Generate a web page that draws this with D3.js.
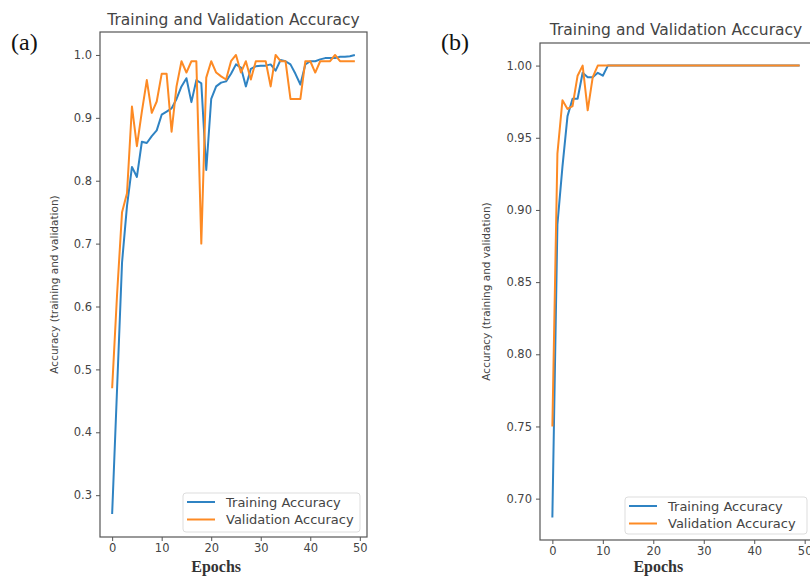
<!DOCTYPE html>
<html lang="en">
<head>
<meta charset="UTF-8">
<title>Training and Validation Accuracy</title>
<script src="https://d3js.org/d3.v7.min.js"></script>
<style>
  body {
    margin: 0;
    background: #fff;
  }
  svg text {
    font-family: "DejaVu Sans", sans-serif;
    fill: #444;
  }
  .tick text {
    font-size: 11.5px;
  }
  .panel-tag, .xlabel {
    font-family: "Liberation Serif", "Times New Roman", serif !important;
    fill: #111 !important;
  }
  .xlabel {
    fill: #333 !important;
  }
</style>
</head>
<body>
<div id="chart"></div>

<script>
// ------ Data ------

const epochs = d3.range(50);

// panel (a)
const trainA = [0.27, 0.47, 0.67, 0.76, 0.822, 0.806, 0.862, 0.86, 0.871, 0.88,
                0.905, 0.91, 0.915, 0.93, 0.95, 0.963, 0.925, 0.96, 0.955, 0.817,
                0.93, 0.95, 0.956, 0.958, 0.97, 0.985, 0.98, 0.95, 0.978, 0.982,
                0.983, 0.983, 0.985, 0.975, 0.992, 0.99, 0.985, 0.97, 0.953, 0.985,
                0.99, 0.99, 0.993, 0.995, 0.995, 0.995, 0.997, 0.997, 0.998, 1.0];
const valA   = [0.47, 0.62, 0.75, 0.78, 0.918, 0.855, 0.91, 0.96, 0.908, 0.926,
                0.97, 0.97, 0.878, 0.95, 0.99, 0.972, 0.99, 0.99, 0.70, 0.964,
                0.99, 0.972, 0.966, 0.961, 0.99, 1.0, 0.972, 0.99, 0.961, 0.99,
                0.99, 0.99, 0.95, 1.0, 0.99, 0.99, 0.93, 0.93, 0.93, 0.99,
                0.99, 0.972, 0.99, 0.99, 0.99, 1.0, 0.99, 0.99, 0.99, 0.99];

// panel (b)
const trainB = [0.687, 0.89, 0.93, 0.965, 0.977, 0.977, 0.995, 0.992, 0.992, 0.995,
                0.993, 1.0, 1.0, 1.0, 1.0, 1.0, 1.0, 1.0, 1.0, 1.0,
                1.0, 1.0, 1.0, 1.0, 1.0, 1.0, 1.0, 1.0, 1.0, 1.0,
                1.0, 1.0, 1.0, 1.0, 1.0, 1.0, 1.0, 1.0, 1.0, 1.0,
                1.0, 1.0, 1.0, 1.0, 1.0, 1.0, 1.0, 1.0, 1.0, 1.0];
const valB   = [0.75, 0.939, 0.976, 0.97, 0.972, 0.993, 1.0, 0.969, 0.992, 1.0,
                1.0, 1.0, 1.0, 1.0, 1.0, 1.0, 1.0, 1.0, 1.0, 1.0,
                1.0, 1.0, 1.0, 1.0, 1.0, 1.0, 1.0, 1.0, 1.0, 1.0,
                1.0, 1.0, 1.0, 1.0, 1.0, 1.0, 1.0, 1.0, 1.0, 1.0,
                1.0, 1.0, 1.0, 1.0, 1.0, 1.0, 1.0, 1.0, 1.0, 1.0];

const xTicks = [0, 10, 20, 30, 40, 50];
const yTicksA = [0.3, 0.4, 0.5, 0.6, 0.7, 0.8, 0.9, 1.0];
const yTicksB = [0.70, 0.75, 0.80, 0.85, 0.90, 0.95, 1.00];

const seriesNames = ["Training Accuracy", "Validation Accuracy"];
const colors = ["#2f83c3", "#fd8a24"];

// ------ Chart ------

const svg = d3.select("#chart")
  .append("svg")
    .attr("width", 810)
    .attr("height", 576);

// matplotlib-like 5% margins
function padded(ext) {
  const m = (ext[1] - ext[0]) * 0.05;
  return [ext[0] - m, ext[1] + m];
}

function drawPanel(p) {
  const g = svg.append("g");
  const [x0, x1, y0, y1] = p.frame;

  const x = d3.scaleLinear().domain(padded([0, 49])).range([x0, x1]);
  const y = d3.scaleLinear()
    .domain(padded(d3.extent(p.train.concat(p.val))))
    .range([y1, y0]);

  // series
  const line = d3.line()
    .x((d, i) => x(epochs[i]))
    .y(d => y(d));

  g.append("defs").append("clipPath")
    .attr("id", "clip-" + p.id)
    .append("rect")
      .attr("x", x0).attr("y", y0)
      .attr("width", x1 - x0).attr("height", y1 - y0);

  [p.train, p.val].forEach((s, k) => {
    g.append("path")
      .datum(s)
      .attr("clip-path", `url(#clip-${p.id})`)
      .attr("d", line)
      .attr("fill", "none")
      .attr("stroke", colors[k])
      .attr("stroke-width", 2)
      .attr("stroke-linejoin", "round");
  });

  // axes
  const xAxis = g.append("g")
    .attr("transform", `translate(0,${y1})`)
    .call(d3.axisBottom(x).tickValues(xTicks).tickSize(4).tickPadding(3).tickFormat(d3.format("d")));
  const yAxis = g.append("g")
    .attr("transform", `translate(${x0},0)`)
    .call(d3.axisLeft(y).tickValues(p.yTicks).tickSize(4).tickPadding(4).tickFormat(d3.format(p.yFmt)));
  [xAxis, yAxis].forEach(a => {
    a.select(".domain").remove();
    a.selectAll(".tick line").attr("stroke", "#555");
    a.selectAll(".tick text").attr("fill", "#444").style("font-family", "DejaVu Sans, sans-serif");
  });

  // frame
  g.append("rect")
    .attr("x", x0).attr("y", y0)
    .attr("width", x1 - x0).attr("height", y1 - y0)
    .attr("fill", "none")
    .attr("stroke", "#555")
    .attr("stroke-width", 1.2);

  // title
  g.append("text")
    .attr("x", (x0 + x1) / 2)
    .attr("y", p.titleY)
    .attr("text-anchor", "middle")
    .style("font-size", "15.5px")
    .text("Training and Validation Accuracy");

  // y label
  g.append("text")
    .attr("transform", `translate(${p.ylabelX},${(y0 + y1) / 2}) rotate(-90)`)
    .attr("text-anchor", "middle")
    .style("font-size", "10.5px")
    .text("Accuracy (training and validation)");

  // x label
  g.append("text")
    .attr("class", "xlabel")
    .attr("x", x(20) + 5)
    .attr("y", 572)
    .attr("text-anchor", "middle")
    .style("font-size", "16px")
    .style("font-weight", "bold")
    .text("Epochs");

  // panel tag
  g.append("text")
    .attr("class", "panel-tag")
    .attr("x", p.tagX)
    .attr("y", 50)
    .style("font-size", "24px")
    .text(p.tag);

  // legend
  const [lx, ly, lw, lh] = p.legend;
  const leg = g.append("g").attr("transform", `translate(${lx},${ly})`);
  leg.append("rect")
    .attr("width", lw).attr("height", lh)
    .attr("rx", 3)
    .attr("fill", "#fff")
    .attr("stroke", "#ddd");
  seriesNames.forEach((name, k) => {
    const yy = 9 + k * 17.5;
    leg.append("line")
      .attr("x1", 4).attr("x2", 32)
      .attr("y1", yy).attr("y2", yy)
      .attr("stroke", colors[k])
      .attr("stroke-width", 2);
    leg.append("text")
      .attr("x", 43)
      .attr("y", yy + 4.5)
      .style("font-size", "13px")
      .text(name);
  });
}

drawPanel({
  id: "a", tag: "(a)", tagX: 11,
  train: trainA, val: valA,
  frame: [100, 367, 32, 537],
  yTicks: yTicksA, yFmt: ".1f",
  titleY: 25, ylabelX: 58,
  legend: [183, 493, 177, 39]
});

drawPanel({
  id: "b", tag: "(b)", tagX: 441,
  train: trainB, val: valB,
  frame: [540, 812, 43, 540],
  yTicks: yTicksB, yFmt: ".2f",
  titleY: 35, ylabelX: 490,
  legend: [625, 497, 182, 37]
});
</script>
</body>
</html>
